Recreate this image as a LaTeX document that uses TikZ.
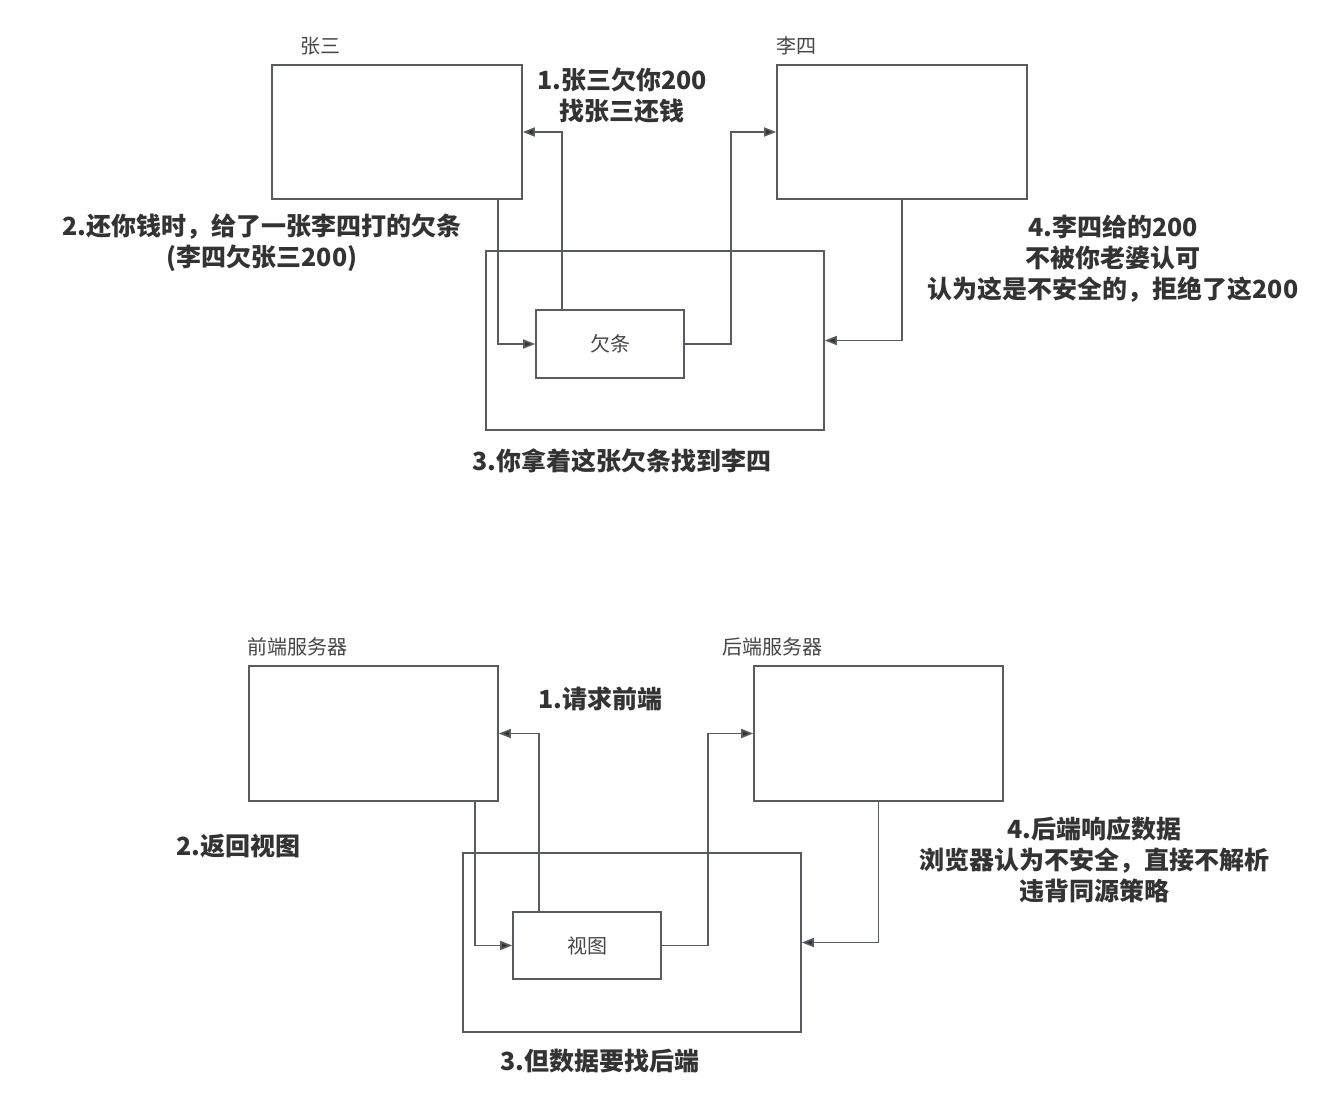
\documentclass[tikz,border=0pt]{standalone}
\usepackage{fontspec}
\setmainfont{Noto Sans CJK SC}
\usetikzlibrary{arrows.meta}
\definecolor{linec}{RGB}{88,91,95}
\definecolor{txtc}{RGB}{51,51,51}
\definecolor{lblc}{RGB}{70,70,70}
\tikzset{
  box/.style={draw=linec, line width=1.6pt, fill=white, inner sep=0pt, text=lblc, font=\fontsize{20}{23}\selectfont},
  arr/.style={draw=linec, line width=1.6pt, -{Triangle[length=12pt,width=9pt,fill=txtc]}},
  note/.style={text=txtc, align=center, inner sep=0pt, font=\fontsize{25}{31}\selectfont\bfseries},
  title/.style={text=lblc, inner sep=0pt, font=\fontsize{20}{23}\selectfont}
}
\begin{document}
\begin{tikzpicture}[x=1pt,y=-1pt]
\useasboundingbox[fill=white] (0,0) rectangle (1333,1105);
% ---------- top diagram ----------
\node[box, minimum width=250pt, minimum height=134pt] (zs) at (397,132) {};
\node[box, minimum width=250pt, minimum height=134pt] (ls) at (902,132) {};
\node[box, minimum width=338pt, minimum height=179pt] (c1) at (655,340.5) {};
\node[box, minimum width=148pt, minimum height=68pt] (qt) at (610,344) {欠条};
\node[title] (tzs) at (320,46) {张三};
\node[title] (tls) at (796,46) {李四};
\draw[arr] ([xshift=-48pt]qt.north) |- (zs.east);
\draw[arr] ([xshift=101pt]zs.south) |- (qt.west);
\draw[arr] (qt.east) -- ++(46,0) |- (ls.west);
\draw[arr] (ls.south) |- (c1.east);
\node[note] (n1) at (622,96) {1.张三欠你200\\找张三还钱};
\node[note] (n2) at (262,243) {2.还你钱时，给了一张李四打的欠条\\(李四欠张三200)};
\node[note] (n3) at (622,461) {3.你拿着这张欠条找到李四};
\node[note] (n4) at (1113,259) {4.李四给的200\\不被你老婆认可\\认为这是不安全的，拒绝了这200};
% ---------- bottom diagram ----------
\node[box, minimum width=249pt, minimum height=135pt] (fe) at (373.5,733.5) {};
\node[box, minimum width=249pt, minimum height=135pt] (be) at (878.5,733.5) {};
\node[box, minimum width=338pt, minimum height=179pt] (c2) at (632,942.5) {};
\node[box, minimum width=148pt, minimum height=67pt] (st) at (587,945.5) {视图};
\node[title] (tfe) at (297,647) {前端服务器};
\node[title] (tbe) at (772,647) {后端服务器};
\draw[arr] ([xshift=-48pt]st.north) |- (fe.east);
\draw[arr] ([xshift=101.5pt]fe.south) |- (st.west);
\draw[arr] (st.east) -- ++(46,0) |- (be.west);
\draw[arr] (be.south) |- (c2.east);
\node[note] (m1) at (600,699) {1.请求前端};
\node[note] (m2) at (238,846) {2.返回视图};
\node[note] (m3) at (600,1061) {3.但数据要找后端};
\node[note] (m4) at (1094,860) {4.后端响应数据\\浏览器认为不安全，直接不解析\\违背同源策略};
\end{tikzpicture}
\end{document}
